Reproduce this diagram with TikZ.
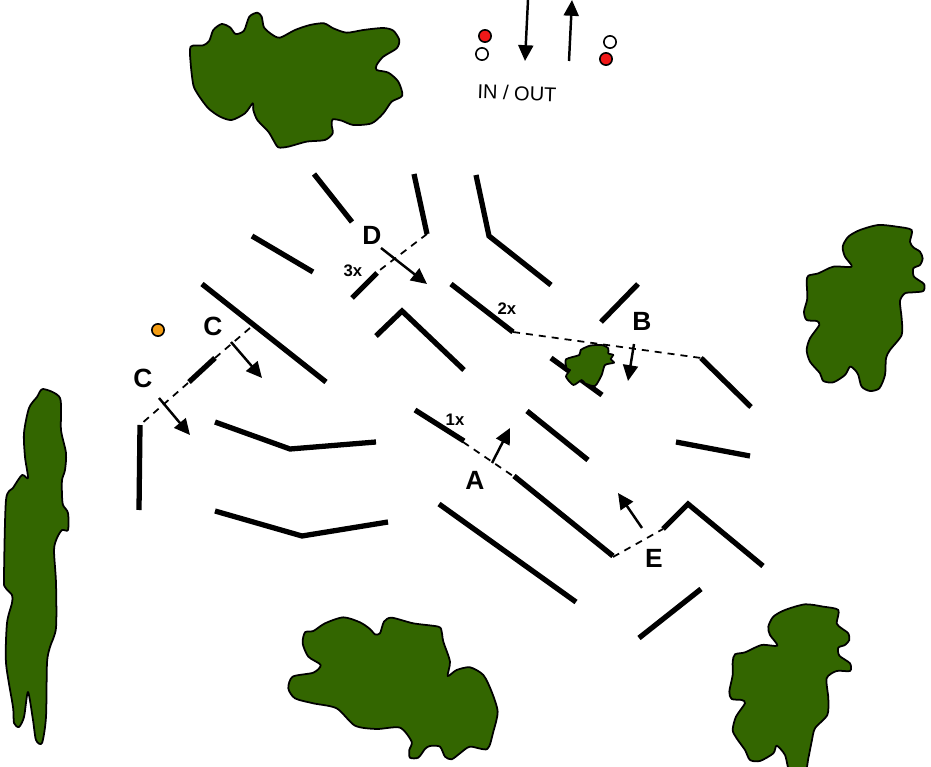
\documentclass[tikz,border=0pt]{standalone}
\usepackage{fontspec}
\setmainfont{Liberation Sans}
\usetikzlibrary{arrows.meta}
\definecolor{forestgreen}{HTML}{336600}
\definecolor{dotred}{HTML}{F01818}
\definecolor{dotorange}{HTML}{F39C12}
\tikzstyle{forest}=[draw=black,line width=1pt,fill=forestgreen,line join=round]
\tikzstyle{wall}=[line width=3pt,line join=miter]
\tikzstyle{gap}=[line width=1pt,dash pattern=on 4pt off 3.4pt]
\tikzstyle{flow}=[line width=1.4pt,-{Triangle[length=9pt,width=8.5pt]}]
\tikzstyle{dot}=[draw=black,line width=0.9pt,circle,inner sep=0pt,minimum size=7pt]
\tikzstyle{big}=[font=\fontsize{15}{17}\selectfont\bfseries,inner sep=0pt]
\tikzstyle{small}=[font=\fontsize{9.5}{11}\selectfont\bfseries,inner sep=0pt]

\begin{document}
\begin{tikzpicture}[x=0.02cm,y=-0.02cm]
  \useasboundingbox (0,0) rectangle (931,767);
  % gaps
  \draw[gap] (427,234) -- (376,273);
  \draw[gap] (513,332) -- (701,358);
  \draw[gap] (250,328) -- (215,358);
  \draw[gap] (188,383) -- (140,425);
  \draw[gap] (463,442) -- (513,476);
  \draw[gap] (613,557) -- (663,529);
  % walls
  \draw[wall] (314,174) -- (352,222);
  \draw[wall] (414,174) -- (427,234);
  \draw[wall] (476,175) -- (489,236) -- (551,285);
  \draw[wall] (252,236) -- (313,272);
  \draw[wall] (352,298) -- (377,273);
  \draw[wall] (451,284) -- (513,332);
  \draw[wall] (376,336) -- (402,311) -- (464,370);
  \draw[wall] (601,322) -- (638,284);
  \draw[wall] (202,284) -- (326,382);
  \draw[wall] (189,382) -- (215,358);
  \draw[wall] (140,425) -- (139,510);
  \draw[wall] (215,422) -- (290,449) -- (376,442);
  \draw[wall] (215,511) -- (302,536) -- (388,522);
  \draw[wall] (415,410) -- (464,441);
  \draw[wall] (514,476) -- (613,556);
  \draw[wall] (527,411) -- (588,460);
  \draw[wall] (439,504) -- (576,602);
  \draw[wall] (551,358) -- (602,395);
  \draw[wall] (701,358) -- (751,407);
  \draw[wall] (676,442) -- (750,456);
  \draw[wall] (663,529) -- (688,504) -- (763,566);
  \draw[wall] (639,638) -- (701,589);
  % forests
  \begin{scope}[shift={(170,0)},scale=0.3333]
    \draw[forest] plot[smooth cycle,tension=.45] coordinates {(62,140) (100,136) (118,122) (130,90) (155,72) (180,82) (197,102) (222,92) (238,50) (262,38) (275,50) (282,82) (305,103) (330,113) (375,90) (420,75) (462,70) (490,85) (530,98) (580,90) (640,84) (670,92) (688,120) (680,145) (640,170) (620,195) (620,210) (655,218) (685,245) (697,287) (665,305) (640,340) (605,370) (550,375) (515,362) (488,358) (485,375) (488,400) (465,420) (410,425) (355,440) (325,442) (310,420) (295,395) (262,360) (250,330) (248,310) (225,340) (185,360) (150,350) (115,325) (85,285) (70,255) (62,190)};
  \end{scope}
  \begin{scope}[shift={(790,215)},scale=0.3333]
    \draw[forest] plot[smooth cycle,tension=.45] coordinates {(55,182) (85,175) (130,155) (185,155) (165,125) (158,95) (175,65) (210,45) (265,30) (320,35) (365,45) (360,80) (370,97) (390,110) (398,130) (390,150) (370,160) (372,185) (402,207) (400,228) (370,232) (345,235) (330,258) (335,310) (335,360) (300,405) (288,430) (285,480) (268,520) (240,528) (215,515) (205,480) (195,465) (180,455) (165,480) (130,502) (100,498) (90,475) (60,440) (50,405) (60,370) (88,330) (80,318) (50,315) (42,290) (52,250) (50,200)};
  \end{scope}
  \begin{scope}[shift={(720,595)},scale=0.3333]
    \draw[forest] plot[smooth cycle,tension=.45] coordinates {(45,178) (75,172) (125,150) (172,152) (150,120) (145,95) (160,65) (195,45) (255,28) (310,35) (355,45) (350,85) (365,100) (385,115) (388,135) (375,150) (355,158) (358,182) (390,205) (390,228) (350,228) (320,250) (325,310) (322,360) (285,400) (275,440) (265,490) (255,530) (210,530) (195,480) (170,452) (160,475) (120,498) (90,495) (75,465) (50,430) (38,405) (48,365) (75,325) (65,315) (35,312) (28,290) (38,240) (38,200)};
  \end{scope}
  \begin{scope}[shift={(280,605)},scale=0.3333]
    \draw[forest] plot[smooth cycle,tension=.45] coordinates {(75,82) (100,78) (135,55) (190,37) (240,52) (270,72) (285,88) (300,85) (312,50) (335,38) (400,55) (475,65) (485,80) (490,110) (510,170) (503,213) (530,195) (570,187) (610,210) (635,260) (653,320) (640,380) (622,432) (570,425) (540,445) (515,463) (495,455) (480,425) (450,423) (435,432) (415,458) (390,458) (388,435) (395,410) (360,368) (290,372) (225,362) (170,310) (100,295) (45,280) (25,250) (38,215) (100,203) (122,180) (85,155) (68,115)};
  \end{scope}
  \begin{scope}[shift={(540,300)},scale=0.3333]
    \draw[forest] plot[smooth cycle,tension=.4] coordinates {(78,178) (118,165) (122,150) (150,137) (185,135) (205,145) (205,160) (220,165) (212,177) (222,188) (195,195) (185,225) (165,258) (135,250) (125,240) (100,255) (78,230) (90,210) (80,205)};
  \end{scope}
  \draw[forest] plot[smooth cycle,tension=.45] coordinates {(43,389) (60,398) (61,430) (66,453) (65,470) (62,480) (62,495) (63,505) (68,513) (68,530) (62,530) (57,538) (54,550) (56,583) (56,628) (50,647) (47,663) (46,717) (42,743) (36,740) (33,720) (28,692) (24,717) (19,727) (14,723) (13,707) (6,663) (7,623) (12,603) (12,595) (5,587) (4,577) (6,500) (13,488) (22,475) (28,478) (25,457) (24,433) (29,408) (37,397)};
  % arrows
  \draw[flow] (528,0) -- (525,61);
  \draw[flow] (569,61) -- (572,0);
  \draw[flow] (381,248) -- (427,284);
  \draw[flow] (634,344) -- (628,381);
  \draw[flow] (231,342) -- (262,378);
  \draw[flow] (159,398) -- (190,435);
  \draw[flow] (492,463) -- (510,428);
  \draw[flow] (642,528) -- (618,493);
  % dots
  \node[dot,fill=dotred] (redin) at (485,36) {};
  \node[dot,fill=white] (whitein) at (482,54) {};
  \node[dot,fill=white] (whiteout) at (610,42) {};
  \node[dot,fill=dotred] (redout) at (606,59) {};
  \node[dot,fill=dotorange] (orange) at (158,330) {};
  % labels
  \node[font=\fontsize{11.4}{13}\selectfont,rotate=-2,inner sep=0pt] (inout) at (517,93) {IN / OUT};
  \node[big] (labelD) at (372,235) {D};
  \node[big] (labelB) at (642,321) {B};
  \node[big] (labelCa) at (213,326) {C};
  \node[big] (labelCb) at (143,378) {C};
  \node[big] (labelA) at (475,480) {A};
  \node[big] (labelE) at (654,558) {E};
  \node[small] (countc) at (353,271) {3x};
  \node[small] (countb) at (507,309) {2x};
  \node[small] (counta) at (455,420) {1x};
\end{tikzpicture}
\end{document}
